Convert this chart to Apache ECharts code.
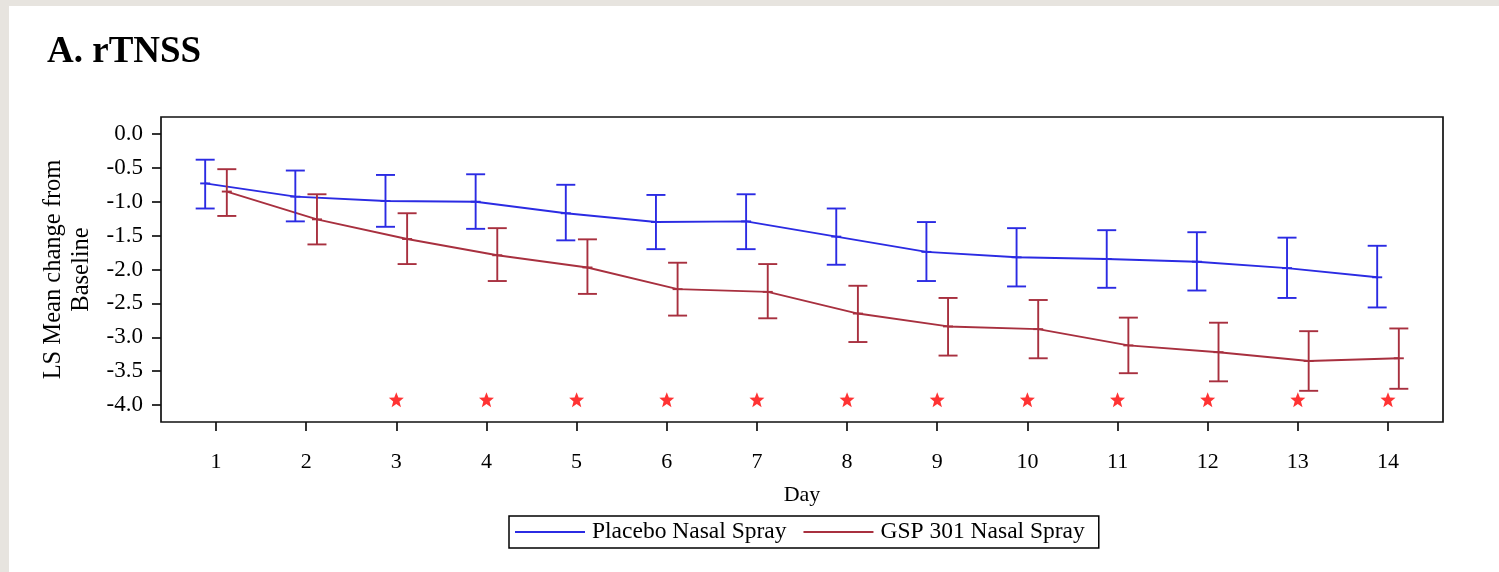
<!DOCTYPE html>
<html>
<head>
<meta charset="utf-8">
<script src="https://cdn.jsdelivr.net/npm/echarts@6/dist/echarts.min.js"></script>
<style>
html,body{margin:0;padding:0;background:#fff;}
#chart{width:1499px;height:572px;}
</style>
</head>
<body>
<div id="chart"></div>
<script>
// ---- data ----
const days = [1,2,3,4,5,6,7,8,9,10,11,12,13,14];
const placeboMean  = [-0.73,-0.925,-0.99,-1.00,-1.17,-1.30,-1.29,-1.515,-1.74,-1.82,-1.845,-1.885,-1.98,-2.115];
const placeboUpper = [-0.38,-0.54,-0.605,-0.595,-0.75,-0.90,-0.89,-1.10,-1.30,-1.39,-1.42,-1.45,-1.53,-1.65];
const placeboLower = [-1.10,-1.29,-1.37,-1.40,-1.57,-1.70,-1.70,-1.93,-2.17,-2.25,-2.27,-2.31,-2.42,-2.56];
const gspMean  = [-0.85,-1.26,-1.55,-1.79,-1.97,-2.29,-2.33,-2.65,-2.84,-2.88,-3.12,-3.22,-3.35,-3.31];
const gspUpper = [-0.52,-0.89,-1.17,-1.39,-1.555,-1.90,-1.92,-2.24,-2.42,-2.45,-2.71,-2.785,-2.91,-2.87];
const gspLower = [-1.21,-1.63,-1.92,-2.17,-2.36,-2.68,-2.72,-3.07,-3.27,-3.31,-3.53,-3.65,-3.79,-3.76];
const sigDays = [3,4,5,6,7,8,9,10,11,12,13,14];
const starLevel = -3.92;
const yTicks = [0,-0.5,-1,-1.5,-2,-2.5,-3,-3.5,-4];
const xTicks = days;
const seriesNames = ['Placebo Nasal Spray','GSP 301 Nasal Spray'];

// ---- styling ----
const FONT = 'Liberation Serif';
const BLUE = '#2b2be3';
const RED = '#a8303f';
const DODGE = 0.12;

function meanPts(means, off){ return days.map((d,i)=>[d+off, means[i]]); }
function barPts(means, lo, hi, off){ return days.map((d,i)=>[d+off, lo[i], hi[i], means[i]]); }

function errRender(color){
  return function(params, api){
    const x = api.value(0);
    const pLo = api.coord([x, api.value(1)]);
    const pHi = api.coord([x, api.value(2)]);
    const pM = api.coord([x, api.value(3)]);
    const w = 9.5, m = 5;
    const st = {stroke: color, lineWidth: 1.9};
    return {type:'group', children:[
      {type:'line', shape:{x1:pHi[0], y1:pHi[1], x2:pLo[0], y2:pLo[1]}, style:st},
      {type:'line', shape:{x1:pHi[0]-w, y1:pHi[1], x2:pHi[0]+w, y2:pHi[1]}, style:st},
      {type:'line', shape:{x1:pLo[0]-w, y1:pLo[1], x2:pLo[0]+w, y2:pLo[1]}, style:st},
      {type:'line', shape:{x1:pM[0]-m, y1:pM[1], x2:pM[0]+m, y2:pM[1]}, style:st}
    ]};
  };
}

const STAR = 'path://M50,0 L63,33 L98,35 L70,58 L80,93 L50,73 L20,93 L30,58 L2,35 L37,33 Z';

const chart = echarts.init(document.getElementById('chart'), null, {renderer:'canvas'});
chart.setOption({
  backgroundColor: '#ffffff',
  animation: false,
  textStyle: {fontFamily: FONT, color: '#000'},
  graphic: [
    {type:'rect', left:0, top:0, shape:{width:1499, height:6}, style:{fill:'#e7e4df'}, silent:true, z:-10},
    {type:'rect', left:0, top:0, shape:{width:9, height:572}, style:{fill:'#e7e4df'}, silent:true, z:-10}
  ],
  title: {
    text: 'A. rTNSS', left: 42, top: 29,
    textStyle: {fontFamily: FONT, fontWeight: 'bold', fontSize: 37, color: '#000'}
  },
  legend: {
    data: seriesNames,
    left: 509, top: 516,
    orient: 'horizontal',
    icon: 'rect', itemWidth: 70, itemHeight: 2, itemGap: 17,
    padding: [4, 14, 4, 6],
    borderColor: '#000', borderWidth: 1.5, borderRadius: 0,
    textStyle: {fontFamily: FONT, fontSize: 23.5, color: '#000', padding: [0,0,0,2]}
  },
  grid: {
    left: 161, right: 56, top: 117, bottom: 150,
    show: true, borderColor: '#111', borderWidth: 1.7, backgroundColor: 'transparent',
    containLabel: false
  },
  xAxis: {
    type: 'value', min: 0.39, max: 14.61, position: 'bottom',
    name: 'Day', nameLocation: 'middle', nameGap: 62,
    nameTextStyle: {fontFamily: FONT, fontSize: 22, color: '#000'},
    axisLine: {show: false, onZero: false},
    axisTick: {show: true, inside: false, length: 9, lineStyle: {color: '#111', width: 1.7}, customValues: xTicks},
    axisLabel: {show: true, margin: 29, fontFamily: FONT, fontSize: 22, color: '#000', customValues: xTicks,
      formatter: v => String(Math.round(v))},
    splitLine: {show: false}
  },
  yAxis: {
    type: 'value', min: -4.25, max: 0.25, position: 'left',
    name: 'LS Mean change from\nBaseline', nameLocation: 'middle', nameGap: 64, nameRotate: 90,
    nameTextStyle: {fontFamily: FONT, fontSize: 24.5, color: '#000', lineHeight: 28, align: 'center'},
    axisLine: {show: false, onZero: false},
    axisTick: {show: true, inside: false, length: 9, lineStyle: {color: '#111', width: 1.7}, customValues: yTicks},
    axisLabel: {show: true, margin: 18, fontFamily: FONT, fontSize: 23, color: '#000', customValues: yTicks,
      formatter: v => v.toFixed(1)},
    splitLine: {show: false}
  },
  series: [
    {
      name: seriesNames[0], type: 'line', data: meanPts(placeboMean, -DODGE),
      symbol: 'none', lineStyle: {color: BLUE, width: 1.9}, itemStyle: {color: BLUE}, z: 3
    },
    {
      name: seriesNames[1], type: 'line', data: meanPts(gspMean, DODGE),
      symbol: 'none', lineStyle: {color: RED, width: 1.9}, itemStyle: {color: RED}, z: 3
    },
    {
      name: 'Placebo CI', type: 'custom', renderItem: errRender(BLUE),
      data: barPts(placeboMean, placeboLower, placeboUpper, -DODGE),
      encode: {x: 0, y: [1, 2]}, z: 4
    },
    {
      name: 'GSP CI', type: 'custom', renderItem: errRender(RED),
      data: barPts(gspMean, gspLower, gspUpper, DODGE),
      encode: {x: 0, y: [1, 2]}, z: 4
    },
    {
      name: 'Significant', type: 'scatter', data: sigDays.map(d => [d, starLevel]),
      symbol: STAR, symbolSize: 15, itemStyle: {color: '#ff0000'}, z: 5
    }
  ]
});
</script>
</body>
</html>
